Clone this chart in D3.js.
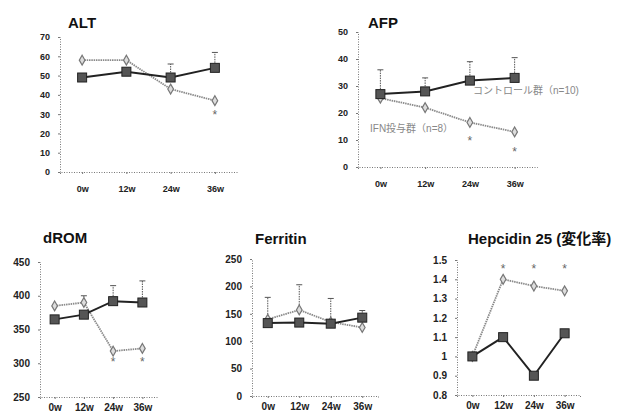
<!DOCTYPE html>
<html>
<head>
  <meta charset="utf-8">
  <title>markers</title>
  <script src="https://d3js.org/d3.v7.min.js"></script>
  <style>
    body { margin: 0; background: #fff; }
    svg { font-family: "Liberation Sans", Arial, "Noto Sans CJK JP", sans-serif; }
    .axis .domain { stroke: #777; stroke-dasharray: 1,1.5; }
    .axis line { stroke: #777; }
    .axis text { font-weight: bold; fill: #222; }
    .title { font-weight: bold; fill: #111; }
  </style>
</head>
<body>
<div id="chart"></div>
<script>
// weeks on the x axis
var weeks = ["0w", "12w", "24w", "36w"];

// ALT
var altCtrl = [49, 52, 49, 54];
var altIfn = [58, 58, 43, 37];
var altErr = [null, null, 56, 62];
var altStar = [null, null, null, 30];
var altTicks = [0, 10, 20, 30, 40, 50, 60, 70];

// AFP
var afpCtrl = [27, 28, 32, 33];
var afpIfn = [25.5, 22, 16.5, 13];
var afpErr = [36, 33, 39, 40.5];
var afpStar = [null, null, 10, 6];
var afpTicks = [0, 10, 20, 30, 40, 50];

// dROM
var dromCtrl = [365, 372, 392, 390];
var dromIfn = [385, 390, 318, 322];
var dromErr = [null, 400, 415, 422];
var dromStar = [null, null, 303, 303];
var dromTicks = [250, 300, 350, 400, 450];

// Ferritin
var ferCtrl = [133, 134, 132, 143];
var ferIfn = [140, 157, 135, 125];
var ferErr = [180, 203, 178, 156];
var ferStar = [null, null, null, null];
var ferTicks = [0, 50, 100, 150, 200, 250];

// Hepcidin 25
var hepCtrl = [1.0, 1.1, 0.9, 1.12];
var hepIfn = [1.0, 1.4, 1.365, 1.34];
var hepErr = [null, null, null, null];
var hepStar = [null, 1.46, 1.46, 1.46];
var hepTicks = [0.8, 0.9, 1.0, 1.1, 1.2, 1.3, 1.4, 1.5];

var ctrlLabel = "コントロール群（n=10)";
var ifnLabel = "IFN投与群（n=8）";

var svg = d3.select("#chart").append("svg")
    .attr("width", 627)
    .attr("height", 416);

// one small line chart
function panel(p) {
  var x = d3.scalePoint().domain(weeks).range([p.x0, p.x1]).padding(0.5);
  var y = d3.scaleLinear().domain([p.ticks[0], p.ticks[p.ticks.length - 1]]).range([p.yb, p.yt]);
  var g = svg.append("g");

  g.append("g")
    .attr("class", "axis")
    .attr("transform", "translate(" + p.x0 + ",0)")
    .style("font-size", p.fs + "px")
    .call(d3.axisLeft(y).tickValues(p.ticks).tickSize(2).tickPadding(8)
      .tickFormat(function(d) { return d3.format("")(+d.toFixed(1)); }));

  g.append("g")
    .attr("class", "axis")
    .attr("transform", "translate(0," + p.yb + ")")
    .style("font-size", p.fs + "px")
    .call(d3.axisBottom(x).tickSize(2).tickPadding(p.xpad));

  g.append("text")
    .attr("class", "title")
    .attr("x", p.tx)
    .attr("y", p.ty)
    .style("font-size", "15px")
    .text(p.title);

  // error bars (upper only)
  p.err.forEach(function(e, i) {
    if (e == null) return;
    var base = Math.max(p.ctrl[i], p.ifn[i]);
    var cx = x(weeks[i]);
    g.append("line")
      .attr("x1", cx).attr("x2", cx)
      .attr("y1", y(base)).attr("y2", y(e))
      .attr("stroke", "#555").attr("stroke-width", 1)
      .attr("stroke-dasharray", "1.5,1");
    g.append("line")
      .attr("x1", cx - 3).attr("x2", cx + 3)
      .attr("y1", y(e)).attr("y2", y(e))
      .attr("stroke", "#555").attr("stroke-width", 1);
  });

  var line = d3.line()
    .x(function(d, i) { return x(weeks[i]); })
    .y(function(d) { return y(d); });

  // IFN group: grey line, diamonds
  g.append("path")
    .datum(p.ifn)
    .attr("d", line)
    .attr("fill", "none")
    .attr("stroke", "#8a8a8a")
    .attr("stroke-width", 1.8)
    .attr("stroke-dasharray", "1.5,0.8");
  g.selectAll(".dia")
    .data(p.ifn)
    .enter().append("path")
      .attr("d", d3.symbol(d3.symbolDiamond, 28))
      .attr("transform", function(d, i) { return "translate(" + x(weeks[i]) + "," + y(d) + ")"; })
      .attr("fill", "#ddd")
      .attr("stroke", "#777")
      .attr("stroke-width", 1.2);

  // control group: dark line, squares
  g.append("path")
    .datum(p.ctrl)
    .attr("d", line)
    .attr("fill", "none")
    .attr("stroke", "#222")
    .attr("stroke-width", 2);
  g.selectAll(".sq")
    .data(p.ctrl)
    .enter().append("rect")
      .attr("x", function(d, i) { return x(weeks[i]) - 4.5; })
      .attr("y", function(d) { return y(d) - 4.5; })
      .attr("width", 9)
      .attr("height", 9)
      .attr("fill", "#555")
      .attr("stroke", "#222")
      .attr("stroke-width", 1);

  // significance marks
  p.star.forEach(function(s, i) {
    if (s == null) return;
    g.append("text")
      .attr("x", x(weeks[i]))
      .attr("y", y(s) + 5)
      .attr("text-anchor", "middle")
      .style("font-size", "12px")
      .attr("fill", "#666")
      .text("*");
  });

  return {x: x, y: y, g: g};
}

panel({title: "ALT", x0: 60, x1: 237, yt: 37, yb: 172, tx: 68, ty: 28, fs: 9, xpad: 12,
  ticks: altTicks, ctrl: altCtrl, ifn: altIfn, err: altErr, star: altStar});

var afp = panel({title: "AFP", x0: 358, x1: 537, yt: 32, yb: 167, tx: 368, ty: 28, fs: 9, xpad: 12,
  ticks: afpTicks, ctrl: afpCtrl, ifn: afpIfn, err: afpErr, star: afpStar});

panel({title: "dROM", x0: 40, x1: 157, yt: 262, yb: 397, tx: 43, ty: 243, fs: 10, xpad: 5,
  ticks: dromTicks, ctrl: dromCtrl, ifn: dromIfn, err: dromErr, star: dromStar});

panel({title: "Ferritin", x0: 252, x1: 378, yt: 259, yb: 396, tx: 255, ty: 244, fs: 10, xpad: 5,
  ticks: ferTicks, ctrl: ferCtrl, ifn: ferIfn, err: ferErr, star: ferStar});

panel({title: "Hepcidin 25 (変化率)", x0: 457, x1: 580, yt: 260, yb: 395, tx: 468, ty: 244, fs: 10, xpad: 5,
  ticks: hepTicks, ctrl: hepCtrl, ifn: hepIfn, err: hepErr, star: hepStar});

// series labels inside AFP
afp.g.append("text")
  .attr("x", 473).attr("y", 94)
  .style("font-size", "10px")
  .attr("fill", "#888")
  .text(ctrlLabel);
afp.g.append("text")
  .attr("x", 370).attr("y", 132)
  .style("font-size", "10px")
  .attr("fill", "#888")
  .text(ifnLabel);
</script>
</body>
</html>
